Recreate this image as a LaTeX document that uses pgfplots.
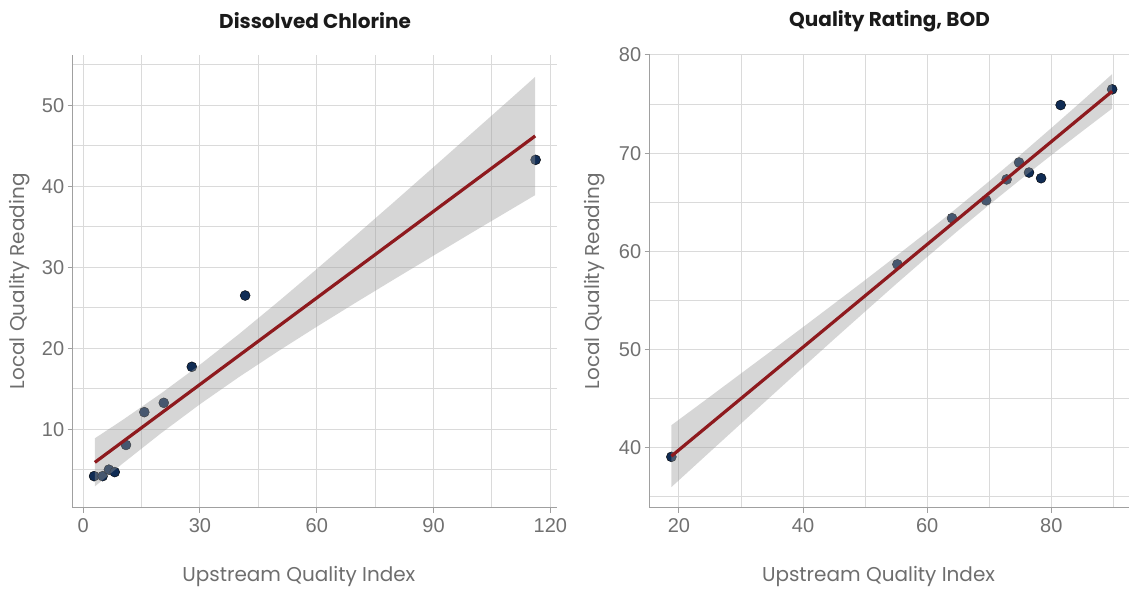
\documentclass[border=0pt]{standalone}
\usepackage{pgfplots}
\pgfplotsset{compat=1.18}
\usepackage{fontspec}
\setmainfont{Liberation Sans}
\newfontfamily\titlefont{Poppins}
\newfontfamily\labelfont{Poppins}
\newfontfamily\tickfont{Liberation Sans}

\definecolor{ptnavy}{RGB}{16,44,84}
\definecolor{bandgray}{RGB}{153,153,153}
\definecolor{fitred}{RGB}{142,26,30}
\definecolor{gridgray}{RGB}{218,218,218}
\definecolor{spinegray}{RGB}{160,160,160}
\definecolor{tickgray}{RGB}{112,112,112}
\definecolor{labelgray}{RGB}{110,110,110}
\definecolor{titleblack}{RGB}{26,26,26}

\pgfplotsset{
  panel/.style={
    set layers,
    scale only axis, height=453pt, anchor=south west,
    axis lines=left,
    axis line style={-, draw=spinegray, line width=1.2pt},
    tick align=outside,
    major tick length=5pt, minor tick length=0pt,
    tick style={draw=spinegray, line width=1pt},
    grid=both,
    major grid style={draw=gridgray, line width=1pt},
    minor grid style={draw=gridgray, line width=1pt},
    /pgf/number format/assume math mode=true,
    /pgf/number format/1000 sep={},
    ticklabel style={font=\tickfont\fontsize{20}{24}\selectfont, text=tickgray},
    xticklabel style={yshift=-2pt},
    xlabel={Upstream Quality Index},
    ylabel={Local Quality Reading},
    label style={font=\labelfont\fontsize{20}{24}\selectfont, text=labelgray},
    title style={font=\titlefont\bfseries\fontsize{20}{24}\selectfont, text=titleblack,
                 at={(axis description cs:0.5,1.062)}, anchor=center},
  },
  pts/.style={only marks, mark=*, mark size=5pt,
              mark options={draw=none, fill=ptnavy}},
  % the confidence band sits above the points, so points inside it look paler
  band/.style={on layer=axis foreground, draw=none, fill=bandgray, fill opacity=0.4},
  fit/.style={on layer=axis foreground, no marks, draw=fitred, line width=3.2pt},
}

\begin{document}
\begin{tikzpicture}
\path (0,0) rectangle (1130pt,590pt);

% Dissolved chlorine: readings against upstream index with linear fit
\begin{axis}[panel, at={(72.7pt,82pt)}, width=485pt,
  title={Dissolved Chlorine},
  xmin=-2.7, xmax=121.8, ymin=0.3, ymax=56.2,
  xtick={0,30,60,90,120}, minor xtick={15,45,75,105},
  ytick={10,20,30,40,50}, minor ytick={5,15,25,35,45,55},
  xlabel style={at={(axis description cs:0.4666,-0.152)}, anchor=center},
  ylabel style={at={(axis description cs:-0.1087,0.5)}, anchor=center},
]
\addplot[pts] coordinates {
  (2.8,4.2) (5.0,4.2) (6.6,5.0) (8.1,4.7) (11.0,8.05)
  (15.7,12.1) (20.7,13.25) (27.9,17.7) (41.6,26.5) (116.2,43.25)
};
\addplot[band] coordinates {
  (3,8.87) (10,11.09) (20,14.41) (30,17.96) (40,21.73) (50,25.70)
  (60,29.77) (70,33.92) (80,38.12) (90,42.36) (100,46.62) (110,50.88)
  (116.1,53.50)
  (116.1,38.90) (110,37.16) (100,34.31) (90,31.43) (80,28.54) (70,25.62)
  (60,22.65) (50,19.60) (40,16.43) (30,13.08) (20,9.50) (10,5.70) (3,2.93)
};
\addplot[fit] coordinates {(3,5.90) (116.1,46.20)};
\end{axis}

% BOD quality rating: readings against upstream index with linear fit
\begin{axis}[panel, at={(650pt,82pt)}, width=480pt,
  title={Quality Rating, BOD},
  xmin=15.28, xmax=92.58, ymin=33.9, ymax=80.0,
  xtick={20,40,60,80}, minor xtick={30,50,70,90},
  ytick={40,50,60,70,80}, minor ytick={35,45,55,65,75},
  xlabel style={at={(axis description cs:0.477,-0.152)}, anchor=center},
  ylabel style={at={(axis description cs:-0.1146,0.5)}, anchor=center},
]
\addplot[pts] coordinates {
  (18.78,39.08) (55.2,58.68) (64.0,63.38) (69.5,65.2) (72.8,67.33)
  (74.8,69.05) (76.4,68.03) (78.35,67.45) (81.5,74.9) (89.8,76.5)
};
\addplot[band] coordinates {
  (18.78,42.30) (25,45.21) (30,47.57) (35,49.92) (40,52.29) (45,54.68)
  (50,57.08) (55,59.52) (60,61.99) (65,64.53) (70,67.15) (75,69.82)
  (80,72.56) (85,75.34) (89.8,78.05)
  (89.8,74.55) (85,72.24) (80,69.80) (75,67.30) (70,64.75) (65,62.13)
  (60,59.43) (55,56.68) (50,53.88) (45,51.06) (40,48.21) (35,45.34)
  (30,42.47) (25,39.59) (18.78,36.00)
};
\addplot[fit] coordinates {(18.78,39.15) (89.8,76.30)};
\end{axis}
\end{tikzpicture}
\end{document}
